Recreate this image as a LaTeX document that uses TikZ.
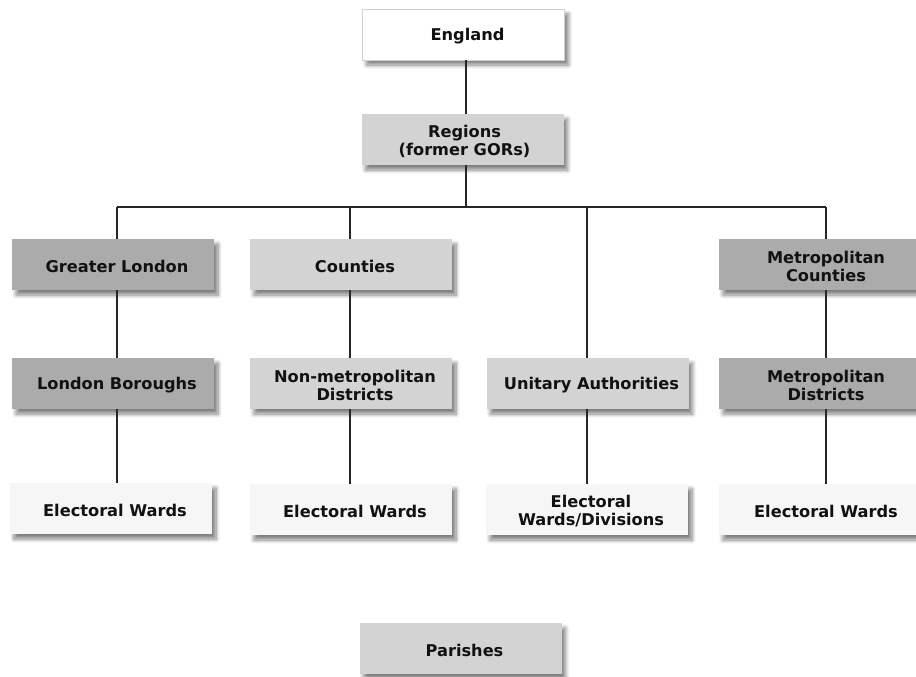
\documentclass[tikz,border=0pt]{standalone}
\usepackage{fontspec}
\setmainfont{DejaVu Sans}
\usetikzlibrary{shadows.blur}
\definecolor{boxdark}{HTML}{ABABAB}
\definecolor{boxmid}{HTML}{D3D3D3}
\definecolor{boxlight}{HTML}{F6F6F6}
\definecolor{inkgray}{HTML}{111111}
\tikzset{
  unitbox/.style={minimum width=202pt, minimum height=51pt, inner sep=0pt,
    blur shadow={shadow xshift=4pt, shadow yshift=-5pt, shadow blur steps=8,
      shadow blur radius=4pt, shadow opacity=50}},
  topbox/.style={unitbox, fill=white, draw=black!18, line width=0.8pt},
  darkbox/.style={unitbox, fill=boxdark},
  midbox/.style={unitbox, fill=boxmid},
  lightbox/.style={unitbox, fill=boxlight},
  caption/.style={inner sep=0pt, align=center, xshift=4pt, yshift=-1.5pt,
    font=\fontsize{16.2}{18}\selectfont\bfseries, text=inkgray},
  link/.style={draw=black!85, line width=1.1pt},
}
\begin{document}
\begin{tikzpicture}[x=1pt, y=-1pt]
  \useasboundingbox (0,0) rectangle (916,677);
  % column axes
  \coordinate (c0) at (466,0);
  \coordinate (c1) at (117,0);
  \coordinate (c2) at (350,0);
  \coordinate (c3) at (587,0);
  \coordinate (c4) at (826,0);
  \coordinate (bar) at (0,207);

  % boxes
  \node[topbox]  (eng)  at (463.5,34.5)  {};
  \node[midbox]  (reg)  at (462.5,139.5) {};

  \node[darkbox] (gl)   at (113,264.5) {};
  \node[midbox]  (cty)  at (351,264.5) {};
  \node[darkbox] (mc)   at (820,264.5) {};

  \node[darkbox] (lb)   at (113,383.5) {};
  \node[midbox]  (nmd)  at (351,383.5) {};
  \node[midbox]  (ua)   at (587.5,383.5) {};
  \node[darkbox] (md)   at (820,383.5) {};

  \node[lightbox] (ew1) at (111,508.5) {};
  \node[lightbox] (ew2) at (351,509.5) {};
  \node[lightbox] (ew3) at (587,509.5) {};
  \node[lightbox] (ew4) at (820,509.5) {};

  \node[midbox]  (par)  at (460.5,648.5) {};

  % captions
  \node[caption] (eng-t) at (eng) {England};
  \node[caption, xshift=-2pt] (reg-t) at (reg) {Regions\\(former GORs)};
  \node[caption] (gl-t)  at (gl)  {Greater London};
  \node[caption] (cty-t) at (cty) {Counties};
  \node[caption, xshift=2pt] (mc-t)  at (mc)  {Metropolitan\\Counties};
  \node[caption] (lb-t)  at (lb)  {London Boroughs};
  \node[caption] (nmd-t) at (nmd) {Non-metropolitan\\Districts};
  \node[caption] (ua-t)  at (ua)  {Unitary Authorities};
  \node[caption, xshift=2pt] (md-t)  at (md)  {Metropolitan\\Districts};
  \node[caption] (ew1-t) at (ew1) {Electoral Wards};
  \node[caption] (ew2-t) at (ew2) {Electoral Wards};
  \node[caption] (ew3-t) at (ew3) {Electoral\\Wards/Divisions};
  \node[caption, xshift=2pt] (ew4-t) at (ew4) {Electoral Wards};
  \node[caption] (par-t) at (par) {Parishes};

  % trunk
  \draw[link] (eng.south -| c0) -- (reg.north -| c0);
  \draw[link] (reg.south -| c0) -- (bar -| c0);
  \draw[link] (bar -| c1) -- (bar -| c4);
  % branches
  \draw[link] (bar -| c1) -- (gl.north -| c1);
  \draw[link] (bar -| c2) -- (cty.north -| c2);
  \draw[link] (bar -| c3) -- (ua.north -| c3);
  \draw[link] (bar -| c4) -- (mc.north -| c4);
  % column 1
  \draw[link] (gl.south -| c1) -- (lb.north -| c1);
  \draw[link] (lb.south -| c1) -- (ew1.north -| c1);
  % column 2
  \draw[link] (cty.south -| c2) -- (nmd.north -| c2);
  \draw[link] (nmd.south -| c2) -- (ew2.north -| c2);
  % column 3
  \draw[link] (ua.south -| c3) -- (ew3.north -| c3);
  % column 4
  \draw[link] (mc.south -| c4) -- (md.north -| c4);
  \draw[link] (md.south -| c4) -- (ew4.north -| c4);
\end{tikzpicture}
\end{document}
